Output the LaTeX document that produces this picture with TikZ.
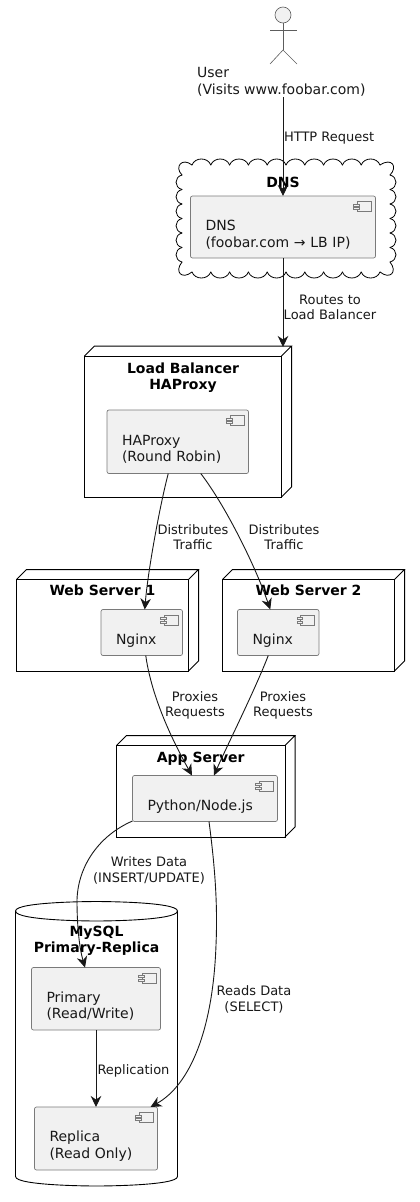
\documentclass[tikz,border=0pt]{standalone}
\usepackage{fontspec}
\setmainfont{DejaVu Sans}
\usepackage{xcolor}
\usetikzlibrary{arrows.meta,positioning,calc}
\definecolor{ink}{HTML}{181818}
\definecolor{boxfill}{HTML}{F1F1F1}
\definecolor{boxline}{HTML}{7A7A7A}
\tikzset{
  comp/.style     ={draw=boxline,fill=boxfill,line width=.7pt,rounded corners=2pt,align=left,
                    anchor=north west,outer sep=0pt,inner xsep=15pt,inner ysep=0pt,text=ink,
                    font=\fontsize{14}{16.3}\selectfont,execute at begin node=\rule{0pt}{26pt}},
  frontface/.style={draw=black,line width=1pt,anchor=north west,outer sep=0pt,inner sep=0pt},
  title/.style    ={align=center,inner sep=0pt,outer sep=0pt,text=black,
                    font=\fontsize{14}{16.3}\selectfont\bfseries},
  lbl/.style      ={align=center,inner sep=0pt,outer sep=0pt,text=ink,
                    font=\fontsize{13}{15.2}\selectfont},
  flow/.style     ={-{Stealth[length=11pt,width=10.5pt,inset=3.5pt]},draw=ink,line width=.9pt},
  stick/.style    ={draw=ink!70,line width=.6pt},
  puffs/.style    ={draw=black,line width=.8pt,line cap=round},
}
% the 3D edges of a deployment node
\newcommand{\cubeedges}[1]{
  \draw[black,line width=1pt] (#1.north west) -- ++(10,-10) -- ($(#1.north east)+(10,-10)$) -- (#1.north east)
        ($(#1.north east)+(10,-10)$) -- ($(#1.south east)+(10,-10)$) -- (#1.south east);
}
\newcommand{\compicon}[1]{
  \draw[boxline,line width=.7pt,fill=boxfill] ($(#1.north east)+(-18.5,5.5)$) rectangle ($(#1.north east)+(-4.5,15.5)$);
  \draw[boxline,line width=.7pt,fill=boxfill] ($(#1.north east)+(-22,8)$) rectangle ($(#1.north east)+(-16.5,10)$);
  \draw[boxline,line width=.7pt,fill=boxfill] ($(#1.north east)+(-22,11.5)$) rectangle ($(#1.north east)+(-16.5,13.5)$);
}
\begin{document}
\begin{tikzpicture}[x=1pt,y=-1pt]
  \useasboundingbox (0,0) rectangle (420,1202);
  % actor
  \node[draw=ink!70,fill=boxfill,circle,line width=.6pt,minimum size=16pt,inner sep=0pt] (head) at (283,15) {};
  \coordinate (hip) at (283,50);
  \draw[stick] (head.south) -- (hip);
  \draw[stick] (270,30) -- (297,30);
  \draw[stick] (270,64) -- (hip) -- (297,64);
  \node[anchor=north west,align=left,inner sep=0pt,text=ink,font=\fontsize{14}{16.8}\selectfont] (user) at (197,67.5)
       {User\\(Visits www.foobar.com)};
  % dns cloud
  \foreach \k in {0,...,9} {
    \draw[puffs] (192+18.8*\k,165) .. controls (195+18.8*\k,157) and (207.8+18.8*\k,157) .. (210.8+18.8*\k,165);
    \draw[puffs] (192+18.8*\k,272) .. controls (195+18.8*\k,280) and (207.8+18.8*\k,280) .. (210.8+18.8*\k,272);
  }
  \foreach \k in {0,...,5} {
    \draw[puffs] (390,175+14.5*\k) .. controls (398,177+14.5*\k) and (398,187.5+14.5*\k) .. (390,189.5+14.5*\k);
    \draw[puffs] (182,175+14.5*\k) .. controls (174,177+14.5*\k) and (174,187.5+14.5*\k) .. (182,189.5+14.5*\k);
  }
  \draw[puffs] (380,165) .. controls (392,157) and (398,167) .. (390,175);
  \draw[puffs] (390,262) .. controls (398,272) and (390,280) .. (380,272);
  \draw[puffs] (192,272) .. controls (182,280) and (174,272) .. (182,262);
  \draw[puffs] (182,175) .. controls (174,167) and (182,157) .. (192,165);
  \node[title] (dnstitle) at (283,182) {DNS};
  \node[comp,text width=155pt,minimum height=62pt] (dnsbox) at (190.5,196) {DNS\\(foobar.com → LB IP)};
  % load balancer
  \node[frontface,minimum width=197pt,minimum height=141pt] (lb) at (84.5,356) {};
  \cubeedges{lb}
  \node[title,below=6.5pt of lb.north] (lbtitle) {Load Balancer\\HAProxy};
  \node[comp,text width=111.5pt,minimum height=63.5pt,below right=54pt and 22.5pt of lb.north west] (haproxy)
       {HAProxy\\(Round Robin)};
  % web servers
  \node[frontface,minimum width=172pt,minimum height=91.5pt] (webone) at (16.5,579.5) {};
  \cubeedges{webone}
  \node[title,below=5.5pt of webone.north] (webonetitle) {Web Server 1};
  \node[comp,text width=51.5pt,minimum height=46pt,below right=30pt and 84.5pt of webone.north west] (nginxone) {Nginx};
  \node[frontface,minimum width=172pt,minimum height=91.5pt,right=34pt of webone.north east,anchor=north west] (webtwo) {};
  \cubeedges{webtwo}
  \node[title,below=5.5pt of webtwo.north] (webtwotitle) {Web Server 2};
  \node[comp,text width=51.5pt,minimum height=46pt,below right=30pt and 15pt of webtwo.north west] (nginxtwo) {Nginx};
  % app server
  \node[frontface,minimum width=168.5pt,minimum height=91.5pt] (app) at (116.5,745.5) {};
  \cubeedges{app}
  \node[title,below=6.5pt of app.north] (apptitle) {App Server};
  \node[comp,text width=115pt,minimum height=46pt,below right=30pt and 16pt of app.north west] (python) {Python/Node.js};
  % database
  \node[minimum width=162pt,minimum height=284.5pt,inner sep=0pt,outer sep=0pt,anchor=north west] (mysql) at (15.5,901.5) {};
  \draw[black,line width=.9pt]
        ($(mysql.north west)+(0,9.5)$) .. controls (mysql.north west) and (mysql.north) .. (mysql.north)
        .. controls (mysql.north) and (mysql.north east) .. ($(mysql.north east)+(0,9.5)$)
        -- ($(mysql.south east)+(0,-9.5)$) .. controls (mysql.south east) and (mysql.south) .. (mysql.south)
        .. controls (mysql.south) and (mysql.south west) .. ($(mysql.south west)+(0,-9.5)$)
        -- cycle;
  \draw[black,line width=.9pt]
        ($(mysql.north west)+(0,9.5)$) .. controls ($(mysql.north west)+(0,19.5)$) and ($(mysql.north)+(0,19.5)$) .. ($(mysql.north)+(0,19.5)$)
        .. controls ($(mysql.north)+(0,19.5)$) and ($(mysql.north east)+(0,19.5)$) .. ($(mysql.north east)+(0,9.5)$);
  \node[title,below=24.5pt of mysql.north] (mysqltitle) {MySQL\\Primary-Replica};
  \node[comp,text width=99pt,minimum height=62.5pt] (primary) at (31.5,967.5) {Primary\\(Read/Write)};
  \node[comp,text width=93pt,minimum height=63pt,below=77pt of primary.south,anchor=north] (replica) {Replica\\(Read Only)};
  \foreach \b in {dnsbox,haproxy,nginxone,nginxtwo,python,primary,replica} {\compicon{\b}}
  % connectors
  \draw[flow] (head |- user.south) -- (dnsbox.north);
  \draw[flow] (dnsbox.south) -- ($(lb.north east)+(1.5,-9)$);
  \draw[flow] ($(haproxy.south)+(-9.5,0)$) .. controls (160,505) and (148,570) .. ($(nginxone.north)+(3,0)$);
  \draw[flow] ($(haproxy.south)+(23,0)$) .. controls (225,505) and (255,565) .. ($(nginxtwo.north)+(-8,0)$);
  \draw[flow] ($(nginxone.south)+(4,0)$) .. controls (152,700) and (175,745) .. ($(python.north)+(-13,0)$);
  \draw[flow] ($(nginxtwo.south)+(-10,0)$) .. controls (255,690) and (225,750) .. ($(python.north)+(9,0)$);
  \draw[flow] ($(python.south west)+(0,-.5)$) .. controls (100,835) and (78,865) .. (77,900)
        .. controls (77,930) and (80,950) .. ($(primary.north)+(-11,0)$);
  \draw[flow] ($(python.south)+(4,0)$) .. controls (214,860) and (218,900) .. (216,945)
        .. controls (213,1030) and (190,1085) .. ($(replica.north east)+(-7,0)$);
  \draw[flow] (primary) -- (replica);
  % edge labels
  \node[lbl,anchor=west] (httplbl) at (284,138) {HTTP Request};
  \node[lbl] (routeslbl) at (330,307.5) {Routes to\\Load Balancer};
  \node[lbl] (distonelbl) at (193,537) {Distributes\\Traffic};
  \node[lbl] (disttwolbl) at (284,537) {Distributes\\Traffic};
  \node[lbl] (proxonelbl) at (195,705.5) {Proxies\\Requests};
  \node[lbl] (proxtwolbl) at (283,705.5) {Proxies\\Requests};
  \node[lbl] (writeslbl) at (149,870.5) {Writes Data\\(INSERT/UPDATE)};
  \node[lbl] (readslbl) at (254,999.5) {Reads Data\\(SELECT)};
  \node[lbl,anchor=west] (repllbl) at (97.5,1071) {Replication};
\end{tikzpicture}
\end{document}
